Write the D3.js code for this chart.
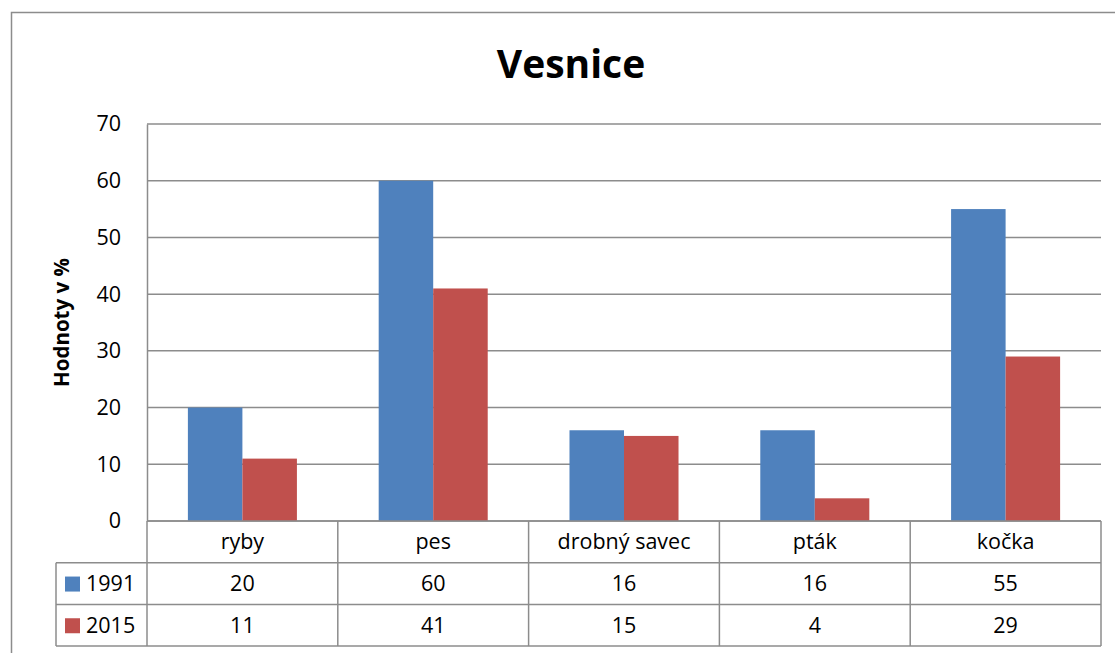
<!DOCTYPE html>
<html><head><meta charset="utf-8">
<script src="https://cdn.jsdelivr.net/npm/d3@7"></script>
<style>body{margin:0;background:#fff}svg{display:block;font-family:"Open Sans","Noto Sans",sans-serif}</style>
</head><body><svg id="c" width="1115" height="653"></svg>
<script>
const categories = ["ryby","pes","drobný savec","pták","kočka"];
const seriesNames = ["1991","2015"];
const values1991 = [20,60,16,16,55];
const values2015 = [11,41,15,4,29];
const yTicks = [0,10,20,30,40,50,60,70];
const colors = ["#4F81BD","#C0504D"];
const series = [values1991, values2015];

const svg = d3.select("#c");
const L = 147, R = 1101, T = 124, B = 521;
const rowH = 41.7;
const legendL = 56;
const fs = 21.5;

// outer border
svg.append("rect").attr("x",11.5).attr("y",12.5).attr("width",1115).attr("height",660)
  .attr("fill","none").attr("stroke","#8c8c8c").attr("stroke-width",1.5);

const y = d3.scaleLinear().domain([0,70]).range([B,T]);
const x0 = d3.scaleBand().domain(categories).range([L,R]);
const x1 = d3.scaleBand().domain(seriesNames).range([0,x0.bandwidth()]).paddingOuter(0.75).paddingInner(0);

// gridlines
svg.append("g").selectAll("line").data(yTicks).join("line")
  .attr("x1",L).attr("x2",R).attr("y1",d=>y(d)).attr("y2",d=>y(d))
  .attr("stroke","#8c8c8c").attr("stroke-width",1.5);

// y axis
const ya = svg.append("g").attr("transform",`translate(${L},0)`)
  .call(d3.axisLeft(y).tickValues(yTicks).tickSize(0).tickPadding(26));
ya.select(".domain").attr("stroke","#8c8c8c").attr("stroke-width",1.5);
ya.selectAll("text").attr("font-size",fs).attr("fill","#000").attr("font-family","'Open Sans',sans-serif");

// bars
seriesNames.forEach((s,i)=>{
  svg.append("g").selectAll("rect").data(categories).join("rect")
    .attr("x",c=>x0(c)+x1(s)).attr("width",x1.bandwidth())
    .attr("y",(c,j)=>y(series[i][j])).attr("height",(c,j)=>B-y(series[i][j]))
    .attr("fill",colors[i]);
});

// data table
const tg = svg.append("g");
const lineStyle = sel => sel.attr("stroke","#8c8c8c").attr("stroke-width",1.5);
[B+rowH, B+2*rowH, B+3*rowH].forEach(yy=>{
  tg.append("line").attr("x1",legendL).attr("x2",R).attr("y1",yy).attr("y2",yy).call(lineStyle);
});
tg.append("line").attr("x1",L).attr("x2",R).attr("y1",B).attr("y2",B).call(lineStyle);
const vx = categories.map(c=>x0(c)).concat([R]);
vx.forEach(xx=>{
  tg.append("line").attr("x1",xx).attr("x2",xx).attr("y1",B).attr("y2",B+3*rowH).call(lineStyle);
});
tg.append("line").attr("x1",legendL).attr("x2",legendL).attr("y1",B+rowH).attr("y2",B+3*rowH).call(lineStyle);

tg.selectAll("text.cat").data(categories).join("text").attr("class","cat")
  .attr("x",c=>x0(c)+x0.bandwidth()/2).attr("y",B+rowH/2+7)
  .attr("text-anchor","middle").attr("font-size",fs).text(c=>c);
seriesNames.forEach((s,i)=>{
  const ry = B+rowH*(i+1);
  tg.selectAll("text.v"+i).data(categories).join("text").attr("class","v"+i)
    .attr("x",c=>x0(c)+x0.bandwidth()/2).attr("y",ry+rowH/2+7.5)
    .attr("text-anchor","middle").attr("font-size",fs).text((c,j)=>series[i][j]);
  tg.append("rect").attr("x",65).attr("y",ry+rowH/2-7).attr("width",15).attr("height",15).attr("fill",colors[i]);
  tg.append("text").attr("x",86).attr("y",ry+rowH/2+7.5).attr("font-size",fs).text(s);
});

// title
svg.append("text").attr("x",571).attr("y",78).attr("text-anchor","middle")
  .attr("font-size",39).attr("font-weight","bold").text("Vesnice");
// y label
svg.append("text").attr("transform",`translate(69,${(T+B)/2}) rotate(-90)`)
  .attr("text-anchor","middle").attr("font-size",20.5).attr("font-weight","bold").text("Hodnoty v %");
</script></body></html>
